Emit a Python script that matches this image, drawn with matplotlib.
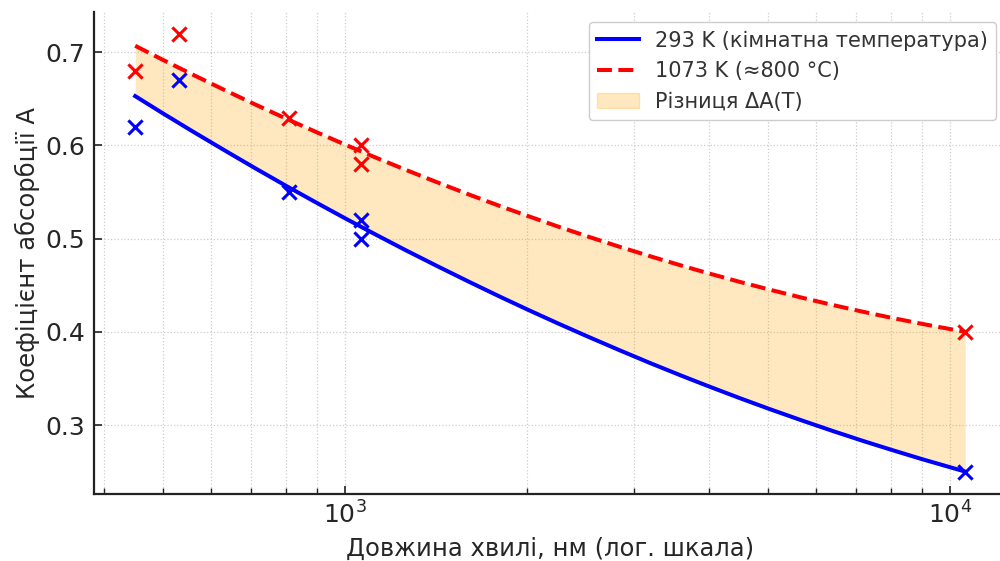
import matplotlib
matplotlib.use("Agg")
import matplotlib.pyplot as plt
from matplotlib.patches import Patch
from matplotlib.lines import Line2D

# Measured absorption coefficients (wavelength in nm)
wl_293 = [450, 532, 808, 1064, 1064, 10600]
a_293 = [0.62, 0.67, 0.55, 0.52, 0.50, 0.25]
wl_1073 = [450, 532, 808, 1064, 1064, 10600]
a_1073 = [0.68, 0.72, 0.63, 0.60, 0.58, 0.40]

# Trend curves for both temperatures
wl_curve = [450, 500, 560, 630, 710, 800, 900, 1000, 1130, 1260, 1420, 1600,
            1800, 2000, 2250, 2520, 2840, 3200, 3600, 4000, 4500, 5040, 5680,
            6400, 7200, 8000, 9000, 10600]
curve_293 = [0.653, 0.6345, 0.6151, 0.5954, 0.5757, 0.5565, 0.5381, 0.5219,
             0.5036, 0.4876, 0.4706, 0.4540, 0.4380, 0.4241, 0.4090, 0.3949,
             0.3804, 0.3663, 0.3529, 0.3413, 0.3287, 0.3170, 0.3051, 0.2936,
             0.2827, 0.2734, 0.2633, 0.2500]
curve_1073 = [0.707, 0.6919, 0.6761, 0.6600, 0.6441, 0.6287, 0.6139, 0.6010,
              0.5864, 0.5739, 0.5605, 0.5476, 0.5352, 0.5246, 0.5130, 0.5023,
              0.4914, 0.4810, 0.4711, 0.4626, 0.4535, 0.4452, 0.4368, 0.4288,
              0.4214, 0.4151, 0.4085, 0.4000]

label_293 = "293 K (кімнатна температура)"
label_1073 = "1073 K (≈800 °C)"
label_diff = "Різниця ΔA(T)"

plt.rcParams["font.family"] = ["DejaVu Sans"]
text_color = "#262626"

fig = plt.figure(figsize=(10, 5.61), dpi=100)
ax = fig.add_axes([0.0937, 0.1203, 0.9131, 0.8587])

ax.fill_between(wl_curve, curve_293, curve_1073, color="orange", alpha=0.25,
                linewidth=0, zorder=1)
ax.plot(wl_curve, curve_293, color="blue", lw=2.9, zorder=3)
ax.plot(wl_curve, curve_1073, color="red", lw=2.9, ls="--", zorder=3)
ax.scatter(wl_293, a_293, marker="x", color="blue", s=105, linewidths=2.2, zorder=4)
ax.scatter(wl_1073, a_1073, marker="x", color="red", s=105, linewidths=2.2, zorder=4)

ax.set_xscale("log")
ax.set_xlabel("Довжина хвилі, нм (лог. шкала)", fontsize=17.5, color=text_color,
              labelpad=6)
ax.set_ylabel("Коефіцієнт абсорбції A", fontsize=17.5, color=text_color)

ax.grid(True, which="major", ls=":", color="#cccccc", lw=0.9)
ax.grid(True, which="minor", axis="x", ls=":", color="#cccccc", lw=0.9)
ax.set_axisbelow(True)

for side in ("top", "right"):
    ax.spines[side].set_visible(False)
for side in ("left", "bottom"):
    ax.spines[side].set_linewidth(1.6)
    ax.spines[side].set_color("#222222")

ax.tick_params(which="both", direction="in", labelsize=18, colors="#222222",
               labelcolor=text_color, pad=6)
ax.tick_params(which="major", length=6, width=1.2)
ax.tick_params(which="minor", length=4, width=1.0)
ax.tick_params(axis="y", which="minor", left=False)

handles = [
    Line2D([], [], color="blue", lw=2.9),
    Line2D([], [], color="red", lw=2.9, ls="--"),
    Patch(facecolor="orange", alpha=0.25, edgecolor="orange"),
]
leg = ax.legend(handles, [label_293, label_1073, label_diff], loc="upper right",
                fontsize=15, framealpha=1, edgecolor="#cccccc")
for t in leg.get_texts():
    t.set_color("#333333")

fig.savefig("out.png", dpi=100)
